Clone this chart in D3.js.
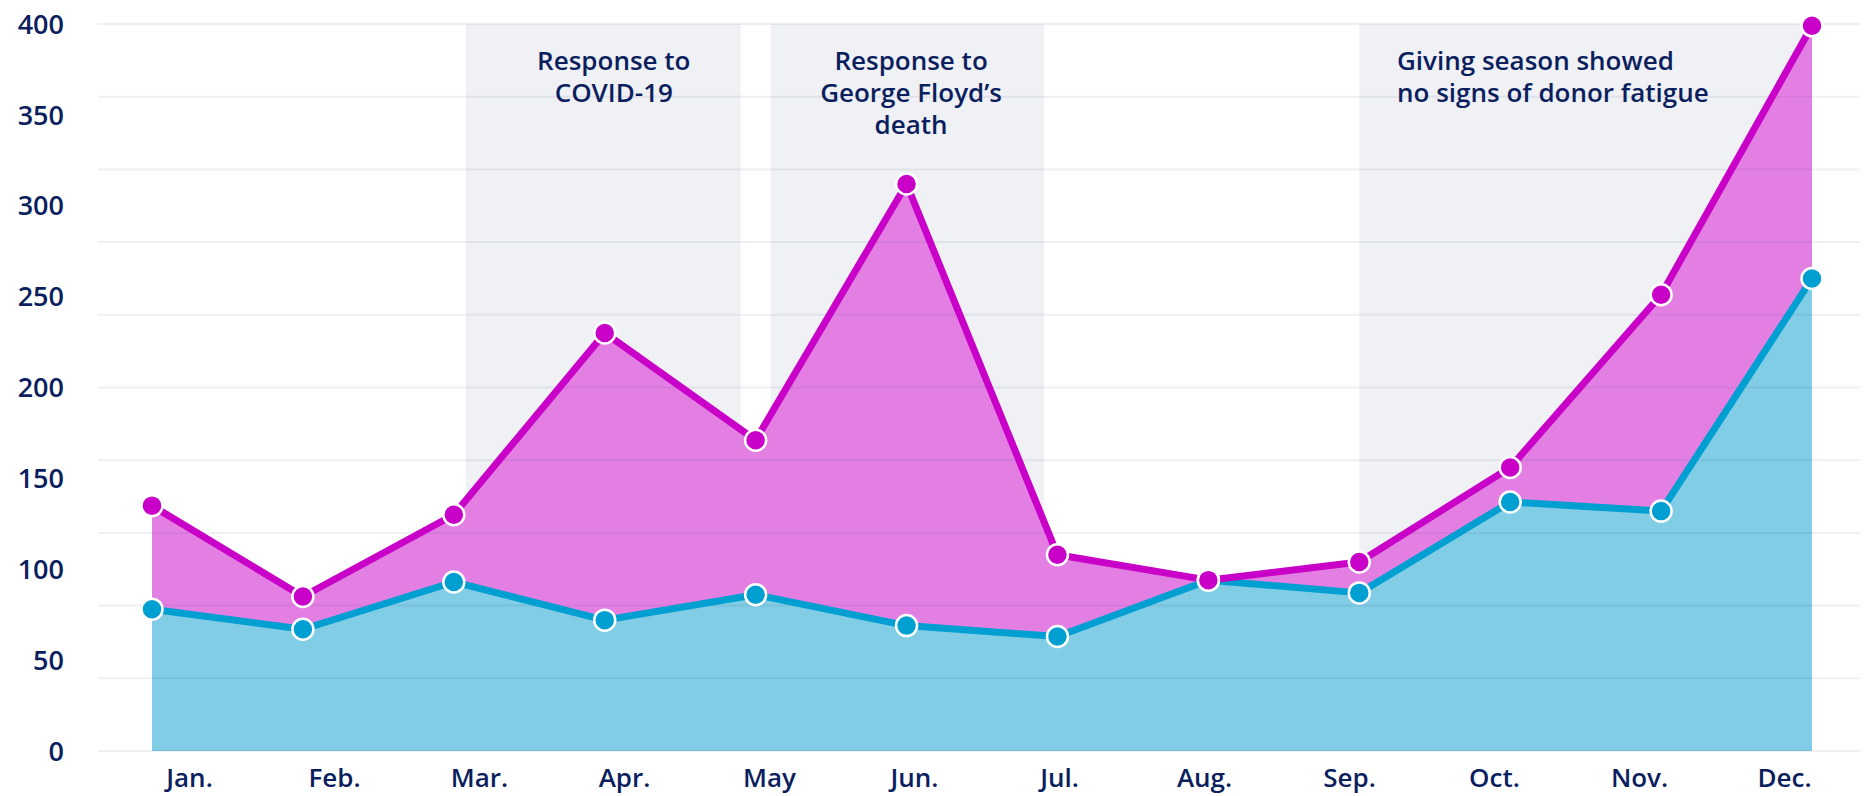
<!DOCTYPE html>
<html>
<head>
<meta charset="utf-8">
<script src="https://cdn.jsdelivr.net/npm/d3@7"></script>
<style>
body { margin: 0; background: #ffffff; }
text { font-family: "Open Sans", "Noto Sans", sans-serif; fill: #0b1f5e; }
</style>
</head>
<body>
<svg id="chart"></svg>
<script>
var months = ["Jan.", "Feb.", "Mar.", "Apr.", "May", "Jun.", "Jul.", "Aug.", "Sep.", "Oct.", "Nov.", "Dec."];
var blueValues = [78, 67, 93, 72, 86, 69, 63, 94, 87, 137, 132, 260];
var magentaValues = [135, 85, 130, 230, 171, 312, 108, 94, 104, 156, 251, 399];
var yLabelTicks = [0, 50, 100, 150, 200, 250, 300, 350, 400];
var gridTicks = [0, 40, 80, 120, 160, 200, 240, 280, 320, 360, 400];
var notes = [
    {from: 2.08, to: 3.9, lines: ["Response to", "COVID-19"], align: "middle", at: 3.06},
    {from: 4.1, to: 5.91, lines: ["Response to", "George Floyd\u2019s", "death"], align: "middle", at: 5.03},
    {from: 8, to: 11, lines: ["Giving season showed", "no signs of donor fatigue"], align: "start", at: 8.25}
];

var width = 1875, height = 796;
var svg = d3.select("#chart").attr("width", width).attr("height", height);

var idx = d3.range(months.length);
var x = d3.scaleLinear().domain([0, 11]).range([152, 1812]);
var xLabel = d3.scaleBand().domain(months).range([117, 1857]);
var y = d3.scaleLinear().domain([0, 400]).range([751, 24]);

// shaded periods
svg.append("g").selectAll("rect").data(notes).enter().append("rect")
    .attr("x", (d) => x(d.from))
    .attr("width", (d) => x(d.to) - x(d.from))
    .attr("y", y(400))
    .attr("height", y(0) - y(400))
    .style("fill", "#f0f1f5")

var magentaArea = d3.area()
    .x((i) => x(i))
    .y0((i) => y(blueValues[i]))
    .y1((i) => y(magentaValues[i]));
var blueArea = d3.area()
    .x((i) => x(i))
    .y0(y(0))
    .y1((i) => y(blueValues[i]));

svg.append("path").datum(idx).attr("d", magentaArea).style("fill", "#e37fe3")
svg.append("path").datum(idx).attr("d", blueArea).style("fill", "#81cde6")

// grid, over the areas but faint
svg.append("g").selectAll("line").data(gridTicks).enter().append("line")
    .attr("x1", 98).attr("x2", 1860)
    .attr("y1", (d) => y(d)).attr("y2", (d) => y(d))
    .style("stroke", "#1a2a6a").style("stroke-opacity", 0.07).style("stroke-width", 2)

var lineFunction = d3.line().x((i) => x(i));

svg.append("path").datum(idx)
    .attr("d", lineFunction.y((i) => y(blueValues[i])))
    .attr("fill", "none").style("stroke", "#009fd1").style("stroke-width", 7).style("stroke-linejoin", "round")
svg.append("path").datum(idx)
    .attr("d", lineFunction.y((i) => y(magentaValues[i])))
    .attr("fill", "none").style("stroke", "#c800c8").style("stroke-width", 7).style("stroke-linejoin", "round")

svg.append("g").selectAll("circle").data(idx).enter().append("circle")
    .attr("cx", (i) => x(i)).attr("cy", (i) => y(blueValues[i]))
    .attr("r", 10.5)
    .style("fill", "#009fd1").style("stroke", "#ffffff").style("stroke-width", 2.5)
svg.append("g").selectAll("circle").data(idx).enter().append("circle")
    .attr("cx", (i) => x(i)).attr("cy", (i) => y(magentaValues[i]))
    .attr("r", 10.5)
    .style("fill", "#c800c8").style("stroke", "#ffffff").style("stroke-width", 2.5)

// y axis labels
svg.append("g").selectAll("text").data(yLabelTicks).enter().append("text")
    .attr("x", 64).attr("y", (d) => y(d)).attr("dy", "0.36em")
    .attr("text-anchor", "end")
    .style("font-size", "27px").style("font-weight", 600)
    .text((d) => d)

// x axis labels
svg.append("g").selectAll("text").data(months).enter().append("text")
    .attr("x", (d) => xLabel(d) + xLabel.bandwidth() / 2).attr("y", 787)
    .attr("text-anchor", "middle")
    .style("font-size", "26px").style("font-weight", 600)
    .text((d) => d)

// notes
var noteText = svg.append("g").selectAll("text").data(notes).enter().append("text")
    .attr("text-anchor", (d) => d.align)
    .style("font-size", "26px").style("font-weight", 600)
noteText.each(function (d) {
    d3.select(this).selectAll("tspan").data(d.lines).enter().append("tspan")
        .attr("x", x(d.at))
        .attr("y", (t, k) => 70 + k * 32)
        .text((t) => t)
})
</script>
</body>
</html>
